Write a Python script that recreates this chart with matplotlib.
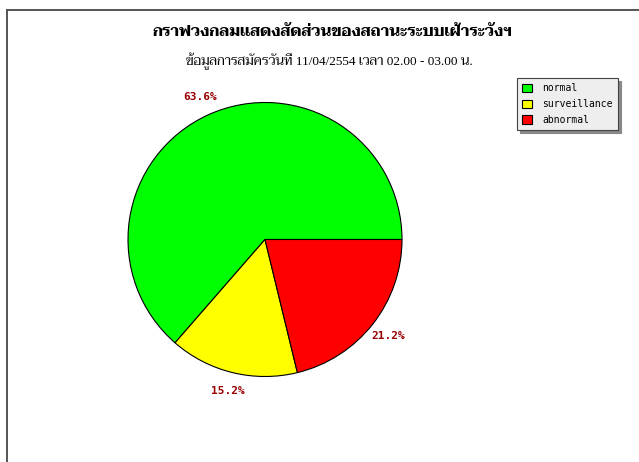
import matplotlib
matplotlib.use("Agg")
import matplotlib.pyplot as plt
from matplotlib.lines import Line2D

categories = ["normal", "surveillance", "abnormal"]
values = [63.6, 15.2, 21.2]
colors = ["#00ff00", "#ffff00", "#ff0000"]
title = "กราฟวงกลมแสดงสัดส่วนของสถานะระบบเฝ้าระวังฯ"
subtitle = "ข้อมูลการสมัครวันที่ 11/04/2554 เวลา 02.00 - 03.00 น."

W, H = 639, 462
fig = plt.figure(figsize=(W / 100, H / 100), dpi=100)
fig.patch.set_facecolor("white")

# frame lines
fig.add_artist(Line2D([7 / W, 1], [1 - 10 / H, 1 - 10 / H], color="#555555", lw=1.4))
fig.add_artist(Line2D([7 / W, 7 / W], [0, 1 - 10 / H], color="#555555", lw=1.4))

# titles
fig.text(332 / W, 1 - 31 / H, title, ha="center", va="center", fontsize=11.2,
         fontweight="bold", family=["Taviraj", "Liberation Serif"])
fig.text(329 / W, 1 - 61 / H, subtitle, ha="center", va="center", fontsize=9.5,
         family=["Liberation Serif", "Taviraj"])

# pie
cx, cy, r = 265, 239.5, 137
ax = fig.add_axes([(cx - r) / W, 1 - (cy + r) / H, 2 * r / W, 2 * r / H])
wedges, texts, autotexts = ax.pie(
    values, colors=colors, startangle=0, counterclock=True,
    autopct="%.1f%%", pctdistance=1.14,
    wedgeprops=dict(edgecolor="black", linewidth=0.8),
    textprops=dict(color="#990000", fontsize=8, fontweight="bold",
                   family="DejaVu Sans Mono"))
ax.set_xlim(-1, 1)
ax.set_ylim(-1, 1)
ax.set_aspect("equal")
ax.axis("off")

leg = fig.legend(wedges, categories, loc="upper left",
                 bbox_to_anchor=(517 / W, 1 - 78 / H),
                 prop=dict(family="DejaVu Sans Mono", size=7),
                 fancybox=False, shadow=dict(color="#888888", alpha=1),
                 framealpha=1, facecolor="#eeeeee", edgecolor="#444444",
                 handlelength=0.95, handleheight=0.95, handletextpad=1.1,
                 labelspacing=0.6, borderpad=0.55, borderaxespad=0)
leg.get_frame().set_linewidth(0.8)
for h in leg.legend_handles:
    h.set_edgecolor("black")
    h.set_linewidth(0.8)

fig.savefig("out.png", dpi=100)
